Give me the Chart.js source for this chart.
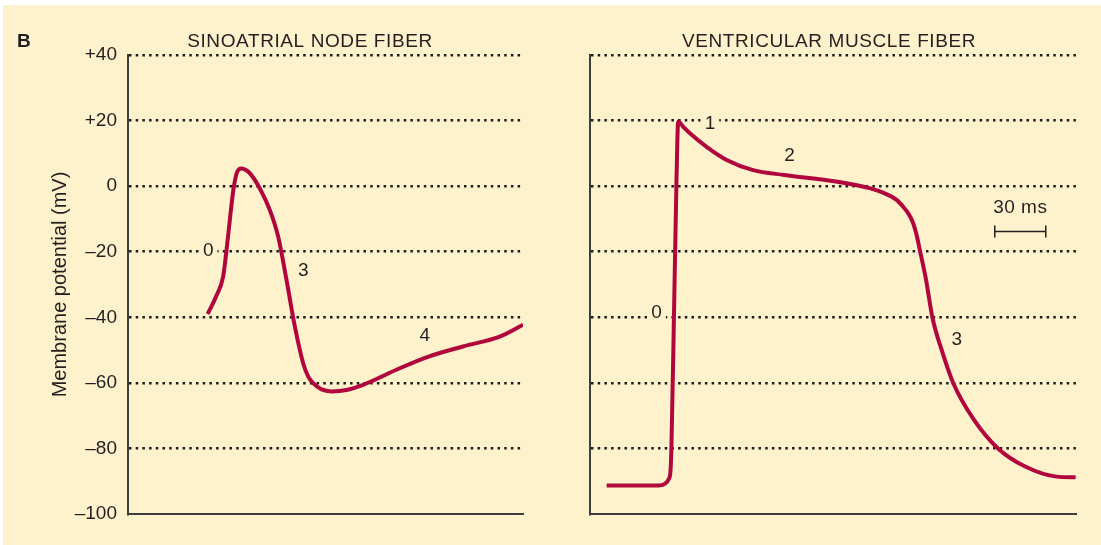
<!DOCTYPE html>
<html>
<head>
<meta charset="utf-8">
<script src="https://cdn.jsdelivr.net/npm/chart.js@4.4.1/dist/chart.umd.min.js"></script>
<style>
  html, body { margin: 0; padding: 0; background: #fff; }
  #paper { position: absolute; left: 3px; top: 5px; width: 1098px; height: 540px; background: #fdf2cc; }
  canvas { position: absolute; top: 0; }
  #sa { left: 0; }
  #vm { left: 550px; }
</style>
</head>
<body>
<div id="paper"></div>
<canvas id="sa" width="550" height="545"></canvas>
<canvas id="vm" width="551" height="545"></canvas>
<script>
// time in ms, membrane potential in mV
var saTime = [46.9, 51.8, 56, 58, 60, 62, 64.3, 66.9, 69.4, 71.8, 77.6, 83.5, 88.4, 93.3, 98.2, 103.1, 106.1, 109, 113.9, 119.8, 128.6, 138.4, 158, 175.7, 197.2, 218.8, 232.5];
var saMv   = [-39, -33.7, -27.6, -19.5, -10, -1.2, 4.4, 5.4, 4.9, 3.9, -0.7, -7.3, -15.4, -28.6, -42.8, -54, -58.1, -60.1, -62, -62.6, -62.2, -60.6, -56, -52.2, -48.9, -45.9, -42.3];

var vmTime = [9.8, 30, 40.2, 44, 46.3, 47.3, 47.9, 49.4, 50.9, 51.9, 54.9, 58.8, 68.6, 80.4, 96, 114.3, 144.7, 165, 172, 180.4, 184.3, 187.3, 190.2, 192.2, 194.1, 197.6, 201.6, 207.6, 213.8, 226, 240.1, 256.4, 274.6, 285.8];
var vmMv   = [-91.3, -91.3, -91.3, -90.8, -89.4, -87.3, -80, -40, 1.9, 19.7, 18.1, 16.1, 12, 8, 4.9, 3.4, 1.4, -0.7, -1.9, -4.2, -6.3, -8.3, -11.3, -14.9, -19.5, -28.1, -40.3, -51, -60.1, -71.3, -80, -85.6, -88.6, -88.8];

var yTicks = [-100, -80, -60, -40, -20, 0, 20, 40];

var saPhases = [{text: '0', x: 47.2, y: -19.5}, {text: '3', x: 103.1, y: -25.6}, {text: '4', x: 174.7, y: -45.4}];
var vmPhases = [{text: '1', x: 70.6, y: 19.2}, {text: '2', x: 117.4, y: 9.5}, {text: '0', x: 39.2, y: -38.3}, {text: '3', x: 215.8, y: -46.4}];

var scaleBar = {start: 238.2, len: 30, y: -13.6, text: '30 ms'};

var BG = '#fdf2cc';
var INK = '#231f20';
var RED = '#b1063d';
var FONT = '"Liberation Sans", Arial, sans-serif';

function tickText(v) {
  if (v > 0) return '+' + v;
  if (v < 0) return '\u2013' + Math.abs(v);
  return '0';
}

var notes = {
  id: 'notes',
  beforeDatasetsDraw: function(chart, args, opts) {
    var ctx = chart.ctx, x = chart.scales.x, y = chart.scales.y;
    ctx.save();
    ctx.font = '19px ' + FONT;
    ctx.textAlign = 'center';
    ctx.textBaseline = 'middle';
    opts.phases.forEach(function(p) {
      var px = x.getPixelForValue(p.x), py = y.getPixelForValue(p.y);
      var w = ctx.measureText(p.text).width + 8;
      ctx.fillStyle = BG;
      ctx.fillRect(px - w / 2, py - 8, w, 16);
      ctx.fillStyle = INK;
      ctx.fillText(p.text, px, py + 1);
    });
    ctx.restore();
  },
  afterDraw: function(chart, args, opts) {
    var ctx = chart.ctx, x = chart.scales.x, y = chart.scales.y;
    ctx.save();
    ctx.fillStyle = INK;
    ctx.textBaseline = 'middle';
    ctx.font = '19px ' + FONT;
    ctx.letterSpacing = '0.6px';
    ctx.textAlign = 'center';
    ctx.fillText(opts.title, opts.titleX, 42);
    if (opts.letter) {
      ctx.font = 'bold 19px ' + FONT;
      ctx.letterSpacing = '0px';
      ctx.textAlign = 'left';
      ctx.fillText(opts.letter, 17, 42);
    }
    if (opts.bar) {
      var b = opts.bar;
      var x0 = x.getPixelForValue(b.start), x1 = x.getPixelForValue(b.start + b.len);
      var py = Math.round(y.getPixelForValue(b.y)) + 0.5;
      ctx.strokeStyle = INK;
      ctx.lineWidth = 1.5;
      ctx.beginPath();
      ctx.moveTo(x0, py); ctx.lineTo(x1, py);
      ctx.moveTo(x0, py - 6); ctx.lineTo(x0, py + 6);
      ctx.moveTo(x1, py - 6); ctx.lineTo(x1, py + 6);
      ctx.stroke();
      ctx.font = '19px ' + FONT;
      ctx.letterSpacing = '0.5px';
      ctx.textAlign = 'center';
      ctx.fillText(b.text, (x0 + x1) / 2, y.getPixelForValue(b.y) - 23);
    }
    ctx.restore();
  }
};

function makeChart(id, xs, ys, xMax, showTicks, pad, yWidth, noteOpts) {
  return new Chart(document.getElementById(id), {
    type: 'line',
    data: {
      datasets: [{
        data: xs.map(function(t, i) { return {x: t, y: ys[i]}; }),
        borderColor: RED,
        borderWidth: 4,
        pointRadius: 0,
        cubicInterpolationMode: 'monotone',
        fill: false
      }]
    },
    options: {
      responsive: false,
      animation: false,
      layout: {padding: pad},
      plugins: {legend: {display: false}, tooltip: {enabled: false}, notes: noteOpts},
      scales: {
        x: {
          type: 'linear', min: 0, max: xMax,
          ticks: {display: false},
          grid: {display: false},
          border: {display: true, color: '#3d3d3d', width: 2},
          afterFit: function(s) { s.height = 0; }
        },
        y: {
          type: 'linear', min: -100, max: 40,
          afterBuildTicks: function(s) { s.ticks = yTicks.map(function(v) { return {value: v}; }); },
          ticks: {
            display: showTicks,
            padding: 11,
            color: INK,
            font: {family: FONT, size: 19},
            callback: tickText
          },
          grid: {
            drawTicks: false,
            lineWidth: 2.5,
            color: function(c) { return c.tick && c.tick.value === -100 ? 'rgba(0,0,0,0)' : '#1c1c1c'; }
          },
          border: {display: true, color: '#3d3d3d', width: 2, dash: [2.5, 4.2]},
          title: {
            display: showTicks,
            text: 'Membrane potential (mV)',
            color: INK,
            font: {family: FONT, size: 20}
          },
          afterFit: function(s) { s.width = yWidth; }
        }
      }
    },
    plugins: [notes]
  });
}

makeChart('sa', saTime, saMv, 232.5, true, {left: 44, right: 27, top: 55, bottom: 31}, 84,
  {phases: saPhases, title: 'SINOATRIAL NODE FIBER', titleX: 310, letter: 'B'});
makeChart('vm', vmTime, vmMv, 286, false, {left: 40, right: 25, top: 55, bottom: 31}, 0,
  {phases: vmPhases, title: 'VENTRICULAR MUSCLE FIBER', titleX: 279, bar: scaleBar});
</script>
</body>
</html>
